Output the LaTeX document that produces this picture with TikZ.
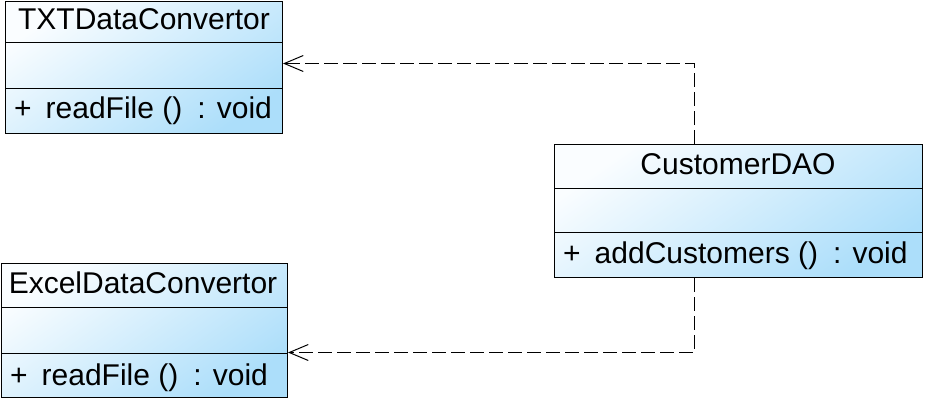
\documentclass[tikz,border=0pt]{standalone}
\usepackage{fontspec}
\setmainfont{Liberation Sans}
\usetikzlibrary{arrows.meta}
\definecolor{boxblue}{RGB}{172,222,250}
\definecolor{boxwhite}{RGB}{250,253,255}
\tikzset{
  classbox/.style={draw=black, line width=1pt, anchor=north west, inner sep=0pt,
    top color=boxwhite, bottom color=boxblue, shading angle=35},
  divider/.style={draw=black, line width=1pt},
  txtlbl/.style={inner sep=0pt, font=\fontsize{30}{33}\selectfont},
  dep/.style={draw=black, line width=1pt, dash pattern=on 14pt off 5pt,
    -{Straight Barb[length=19pt,width=16pt,line width=1pt]}}
}
\begin{document}
\begin{tikzpicture}[x=1pt,y=-1pt]
\useasboundingbox (0,0) rectangle (925,401);
% TXTDataConvertor
\node[classbox, minimum width=277pt, minimum height=132pt] (txt) at (5,1) {};
\draw[divider] (5,43) -- (282,43);
\draw[divider] (5,89) -- (282,89);
\node[txtlbl, anchor=base] (txtname) at (144,30) {TXTDataConvertor};
\node[txtlbl, anchor=base west] (txtop) at (14,118) {+\hspace{14pt}readFile ()\hspace{15pt}: void};
% ExcelDataConvertor
\node[classbox, minimum width=286pt, minimum height=134pt] (exc) at (1,263) {};
\draw[divider] (1,307) -- (287,307);
\node[txtlbl, anchor=base] (excname) at (143,293) {ExcelDataConvertor};
\draw[divider] (1,353) -- (287,353);
\node[txtlbl, anchor=base west] (excop) at (10,385) {+\hspace{14pt}readFile ()\hspace{15pt}: void};
% CustomerDAO
\node[classbox, minimum width=368pt, minimum height=133pt] (dao) at (554,144) {};
\draw[divider] (554,188) -- (922,188);
\draw[divider] (554,232) -- (922,232);
\node[txtlbl, anchor=base] (daoname) at (738,174) {CustomerDAO};
\node[txtlbl, anchor=base west] (daoop) at (563,263) {+\hspace{14pt}addCustomers ()\hspace{15pt}: void};
% dependencies
\draw[dep] ([xshift=140pt]dao.north west) |- ([yshift=4pt]txt.east);
\draw[dep] ([xshift=140pt]dao.south west) |- ([yshift=-22pt]exc.east);
\end{tikzpicture}
\end{document}
